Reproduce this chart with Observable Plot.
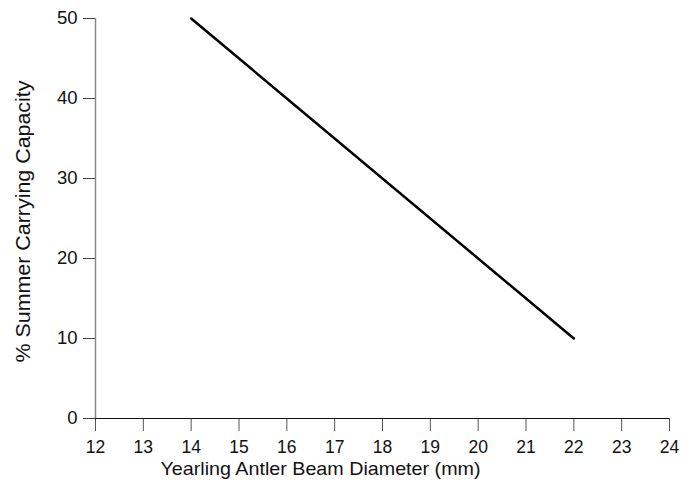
<!DOCTYPE html>
<html>
<head>
<meta charset="utf-8">
<script src="https://cdn.jsdelivr.net/npm/d3@7"></script>
<script src="https://cdn.jsdelivr.net/npm/@observablehq/plot@0.6"></script>
<style>
  html, body { margin: 0; padding: 0; background: #fff; }
  svg { font-family: "Liberation Sans", Arial, sans-serif; }
</style>
</head>
<body>
<div id="chart"></div>
<script>
const beamDiameter = [14, 22];
const carryingCapacity = [50, 10];
const xTicks = [12, 13, 14, 15, 16, 17, 18, 19, 20, 21, 22, 23, 24];
const yTicks = [0, 10, 20, 30, 40, 50];
const xLabel = "Yearling Antler Beam Diameter (mm)";
const yLabel = "% Summer Carrying Capacity";

const data = beamDiameter.map((x, i) => ({x, y: carryingCapacity[i]}));

const chart = Plot.plot({
  width: 692,
  height: 487,
  marginLeft: 95,
  marginRight: 23,
  marginTop: 18,
  marginBottom: 69,
  style: {fontFamily: "'Liberation Sans', Arial, sans-serif", color: "#000", background: "#fff"},
  x: {domain: [12, 24]},
  y: {domain: [0, 50]},
  marks: [
    Plot.axisX({ticks: xTicks, tickSize: 13, tickFormat: () => "", label: null, stroke: "#555"}),
    Plot.axisY({ticks: yTicks, tickSize: 12, tickFormat: () => "", label: null, stroke: "#444"}),
    Plot.text(xTicks, {x: d => d, y: 0, text: d => String(d), lineAnchor: "top", dy: 22, fontSize: 17.5, fill: "#111"}),
    Plot.text(yTicks, {x: 12, y: d => d, text: d => String(d), textAnchor: "end", dx: -18, fontSize: 18.5, fill: "#111"}),
    Plot.ruleX([12], {y1: 0, y2: 50, stroke: "#888", strokeWidth: 1.5}),
    Plot.ruleY([0], {stroke: "#111", strokeWidth: 1.2}),
    Plot.line(data, {x: "x", y: "y", stroke: "#000", strokeWidth: 2.5}),
    Plot.text([xLabel], {frameAnchor: "bottom", text: d => d, dy: 56, dx: -62, fontSize: 18.5, fill: "#111"}),
    Plot.text([yLabel], {frameAnchor: "left", textAnchor: "middle", text: d => d, rotate: -90, dx: -72, dy: 3, fontSize: 21, fill: "#111"})
  ]
});
d3.select(chart).selectAll("text").each(function() {
  const t = this.textContent.trim();
  if (t === xLabel) d3.select(this).attr("textLength", 320).attr("lengthAdjust", "spacingAndGlyphs");
  if (t === yLabel) d3.select(this).attr("textLength", 282).attr("lengthAdjust", "spacingAndGlyphs");
});
document.getElementById("chart").append(chart);
</script>
</body>
</html>
